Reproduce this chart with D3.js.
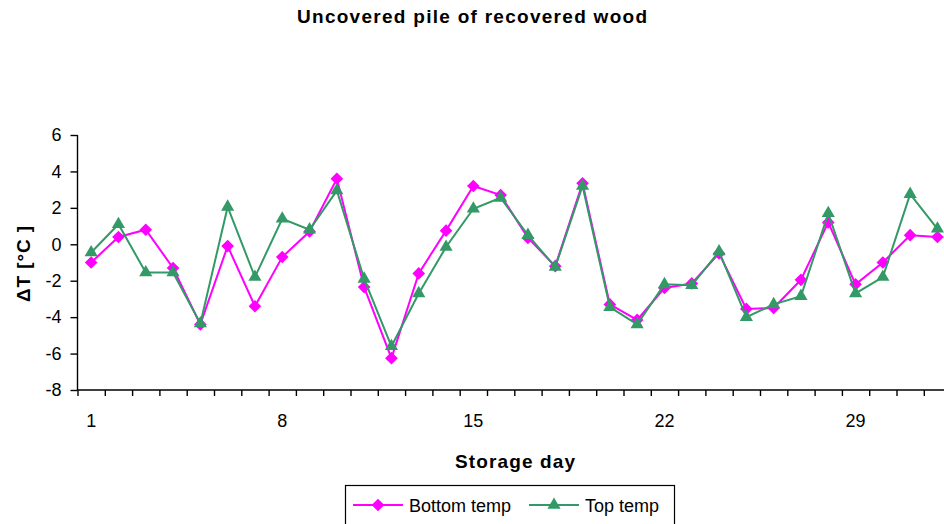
<!DOCTYPE html>
<html>
<head>
<meta charset="utf-8">
<script src="https://cdn.jsdelivr.net/npm/d3@7"></script>
<style>
  html, body { margin: 0; padding: 0; background: #fff; }
  svg { display: block; font-family: "Liberation Sans", Arial, sans-serif; }
</style>
</head>
<body>
<svg id="chart" width="944" height="524"></svg>
<script>
// Storage days and temperature differences (°C)
const days = d3.range(1, 33);
const bottomTemp = [-1.0, 0.4, 0.8, -1.3, -4.4, -0.1, -3.4, -0.7, 0.7, 3.6,
                    -2.35, -6.25, -1.6, 0.75, 3.2, 2.7, 0.35, -1.2, 3.35, -3.3,
                    -4.15, -2.4, -2.15, -0.5, -3.55, -3.5, -1.95, 1.2, -2.2, -1.0,
                    0.5, 0.4];
const topTemp = [-0.45, 1.1, -1.55, -1.55, -4.35, 2.05, -1.8, 1.4, 0.8, 2.95,
                 -1.9, -5.6, -2.7, -0.15, 1.95, 2.55, 0.5, -1.25, 3.2, -3.45,
                 -4.4, -2.2, -2.25, -0.4, -4.0, -3.3, -2.85, 1.7, -2.7, -1.8,
                 2.75, 0.85];
const yTicks = [-8, -6, -4, -2, 0, 2, 4, 6];
const xTickLabels = [1, 8, 15, 22, 29];

const diamond = { draw(ctx, size) {
  const r = Math.sqrt(size / 2);
  ctx.moveTo(0, -r); ctx.lineTo(r, 0); ctx.lineTo(0, r); ctx.lineTo(-r, 0); ctx.closePath();
} };

const series = [
  { name: "Bottom temp", values: bottomTemp, color: "#FF00FF", symbol: diamond, size: 80 },
  { name: "Top temp", values: topTemp, color: "#339966", symbol: d3.symbolTriangle, size: 75 }
];

(function draw() {
  const svg = d3.select("#chart");
  const plotLeft = 77.5, plotTop = 135, plotBottom = 390;
  const step = 27.3;

  const x = d3.scaleLinear().domain([0.5, days.length + 0.5]).range([plotLeft, plotLeft + step * days.length]);
  const y = d3.scaleLinear().domain([-8, 6]).range([plotBottom, plotTop]);

  // Title
  svg.append("text")
    .attr("x", 472).attr("y", 23)
    .attr("text-anchor", "middle")
    .attr("font-size", 19).attr("font-weight", "bold")
    .attr("textLength", 350).attr("lengthAdjust", "spacing")
    .text("Uncovered pile of recovered wood");

  // Y axis
  const yAxis = svg.append("g")
    .attr("transform", `translate(${plotLeft},0)`)
    .call(d3.axisLeft(y).tickValues(yTicks).tickSize(7).tickPadding(9).tickFormat(d => String(d)));
  yAxis.selectAll("path, line").attr("stroke", "#000").attr("stroke-width", 1.4);
  yAxis.select(".domain").attr("d", `M0,${plotTop}V${plotBottom}`);
  yAxis.selectAll("text").attr("font-size", 18).attr("fill", "#000")
    .attr("font-family", "'Liberation Sans', Arial, sans-serif");

  // X axis: tick marks between categories, labels on selected days
  const xAxis = svg.append("g")
    .attr("transform", `translate(0,${plotBottom})`)
    .call(d3.axisBottom(x).tickValues(d3.range(0.5, days.length + 1, 1)).tickSize(6).tickFormat(""));
  xAxis.selectAll("path, line").attr("stroke", "#000").attr("stroke-width", 1.4);
  xAxis.select(".domain").attr("d", `M${plotLeft},0H${x(days.length + 0.5)}`);

  svg.append("g").selectAll("text")
    .data(xTickLabels)
    .join("text")
    .attr("x", d => x(d))
    .attr("y", 427)
    .attr("text-anchor", "middle")
    .attr("font-size", 18)
    .text(d => d);

  // Axis titles
  svg.append("text")
    .attr("transform", `translate(30,${264}) rotate(-90)`)
    .attr("text-anchor", "middle")
    .attr("font-size", 19).attr("font-weight", "bold")
    .attr("textLength", 76).attr("lengthAdjust", "spacing")
    .text("ΔT [°C ]");

  svg.append("text")
    .attr("x", 515).attr("y", 468)
    .attr("text-anchor", "middle")
    .attr("font-size", 19).attr("font-weight", "bold")
    .attr("textLength", 120).attr("lengthAdjust", "spacing")
    .text("Storage day");

  // Lines and markers
  const line = d3.line().x((d, i) => x(days[i])).y(d => y(d));

  series.forEach(s => {
    const g = svg.append("g");
    g.append("path")
      .datum(s.values)
      .attr("fill", "none")
      .attr("stroke", s.color)
      .attr("stroke-width", 2)
      .attr("d", line);
    g.selectAll("path.pt")
      .data(s.values)
      .join("path")
      .attr("class", "pt")
      .attr("transform", (d, i) => `translate(${x(days[i])},${y(d)})`)
      .attr("d", d3.symbol().type(s.symbol).size(s.size))
      .attr("fill", s.color);
  });

  // Legend
  const legend = svg.append("g");
  legend.append("rect")
    .attr("x", 345.5).attr("y", 485.5)
    .attr("width", 329).attr("height", 44)
    .attr("fill", "#fff").attr("stroke", "#000").attr("stroke-width", 1.2);

  const legendItems = [
    { s: series[0], x0: 353, tx: 409 },
    { s: series[1], x0: 529, tx: 585 }
  ];
  legendItems.forEach(it => {
    const cy = 505;
    legend.append("line")
      .attr("x1", it.x0).attr("x2", it.x0 + 50)
      .attr("y1", cy).attr("y2", cy)
      .attr("stroke", it.s.color).attr("stroke-width", 2);
    legend.append("path")
      .attr("transform", `translate(${it.x0 + 25},${cy})`)
      .attr("d", d3.symbol().type(it.s.symbol).size(it.s.size))
      .attr("fill", it.s.color);
    legend.append("text")
      .attr("x", it.tx).attr("y", 511.5)
      .attr("font-size", 18)
      .text(it.s.name);
  });
})();
</script>
</body>
</html>
